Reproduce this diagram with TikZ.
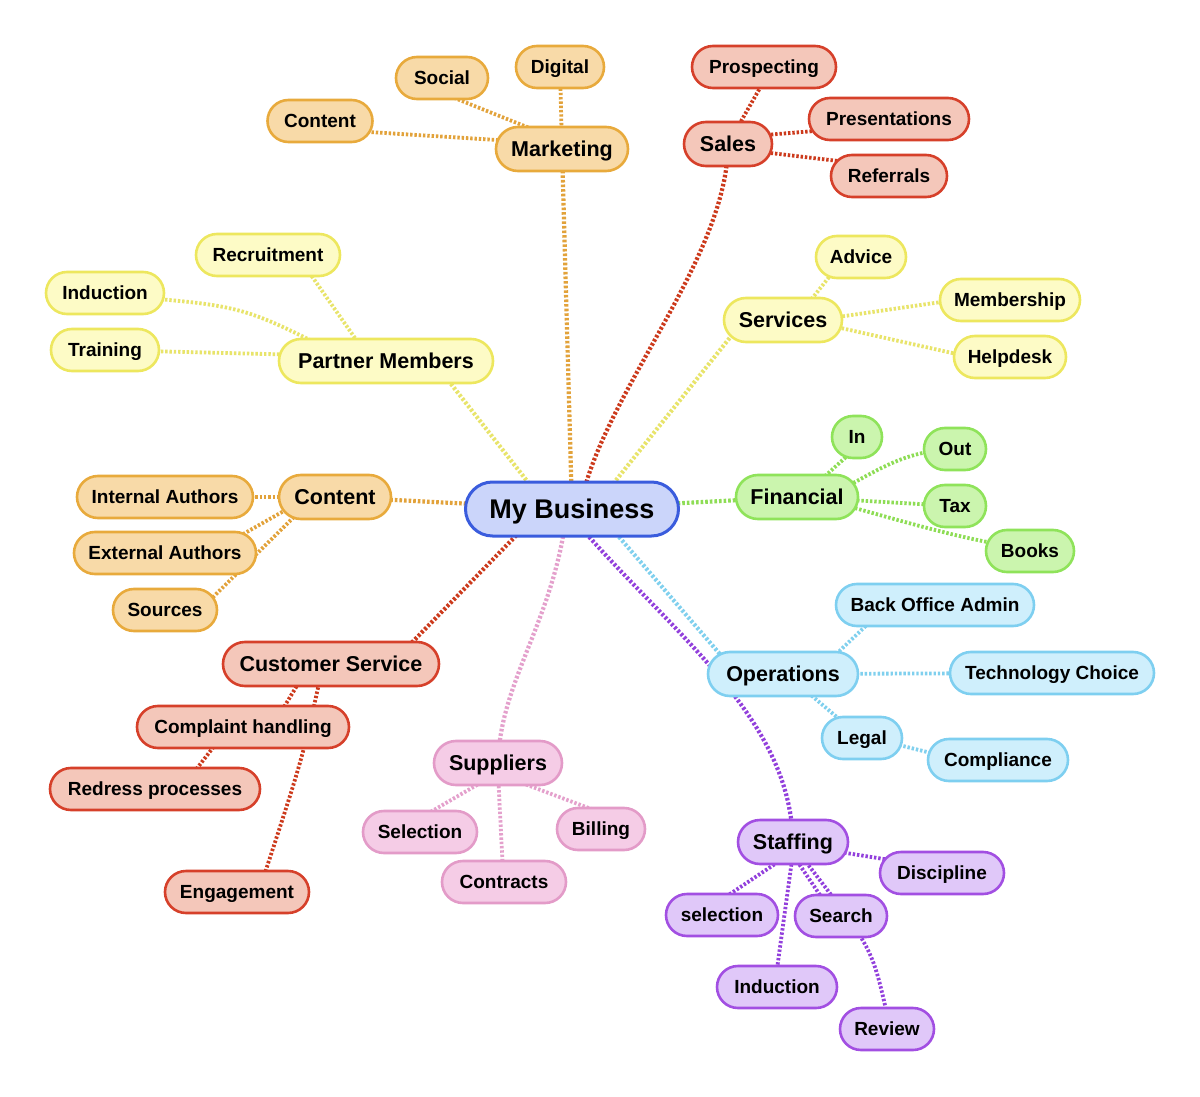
\documentclass[tikz,border=0pt]{standalone}
\usepackage{fontspec}
\setmainfont{Liberation Sans}
\usetikzlibrary{calc}
\definecolor{oraB}{HTML}{E8AA3C}\definecolor{oraF}{HTML}{F8DAA8}\definecolor{oraL}{HTML}{E2A23A}
\definecolor{redB}{HTML}{D6402A}\definecolor{redF}{HTML}{F4C7BA}\definecolor{redL}{HTML}{CC3A1C}
\definecolor{yelB}{HTML}{EDE75E}\definecolor{yelF}{HTML}{FDFBC6}\definecolor{yelL}{HTML}{E8E46A}
\definecolor{grnB}{HTML}{8FE35A}\definecolor{grnF}{HTML}{CBF5AE}\definecolor{grnL}{HTML}{8EDD55}
\definecolor{bluB}{HTML}{7ECFF0}\definecolor{bluF}{HTML}{CFEFFC}\definecolor{bluL}{HTML}{80D0EE}
\definecolor{pnkB}{HTML}{E39BC8}\definecolor{pnkF}{HTML}{F5CCE6}\definecolor{pnkL}{HTML}{E4A0CC}
\definecolor{purB}{HTML}{A24FE2}\definecolor{purF}{HTML}{E0C8F9}\definecolor{purL}{HTML}{9240DC}
\definecolor{rootB}{HTML}{3A5CDD}\definecolor{rootF}{HTML}{CBD5FA}
\pgfdeclarelayer{bgfill}
\pgfdeclarelayer{edges}
\pgfsetlayers{bgfill,edges,main}
\begin{document}
\begin{tikzpicture}[x=1pt,y=-1pt,
  box/.style={draw, line width=2.6pt, rounded corners=21pt, minimum height=42pt, inner sep=0pt,
    text height=13.6pt, text depth=0pt,
    font=\fontsize{19}{22}\selectfont\bfseries},
  lvone/.style={box, minimum height=44pt, rounded corners=22pt, text height=15.4pt,
    font=\fontsize{21.5}{25}\selectfont\bfseries},
  rootbox/.style={draw=rootB, fill=rootF, line width=3pt, rounded corners=27pt, minimum height=54pt,
    minimum width=213pt, inner sep=0pt, text height=19.3pt, text depth=0pt,
    font=\fontsize{27}{31}\selectfont\bfseries},
  ora/.style={draw=oraB, fill=oraF}, rd/.style={draw=redB, fill=redF},
  yel/.style={draw=yelB, fill=yelF}, grn/.style={draw=grnB, fill=grnF},
  blu/.style={draw=bluB, fill=bluF}, pnk/.style={draw=pnkB, fill=pnkF},
  pur/.style={draw=purB, fill=purF},
  link/.style={line width=4.2pt, dash pattern=on 2.6pt off 2pt},
  sublink/.style={line width=3.8pt, dash pattern=on 2.4pt off 1.9pt}]
\useasboundingbox (0,0) rectangle (1200,1097);
\begin{pgfonlayer}{bgfill}
\fill[white] (0,0) rectangle (1200,1097);
\end{pgfonlayer}

% root
\node[rootbox] (mb) at (572,509) {My Business};

% Marketing
\node[lvone,ora,minimum width=132pt] (mkt) at (562,149) {Marketing};
\node[box,ora,minimum width=92pt] (soc) at (442,78) {Social};
\node[box,ora,minimum width=88pt] (dig) at (560,67) {Digital};
\node[box,ora,minimum width=105pt] (mcon) at (320,121) {Content};

% Sales
\node[lvone,rd,minimum width=88pt] (sal) at (728,144) {Sales};
\node[box,rd,minimum width=144pt] (pro) at (764,67) {Prospecting};
\node[box,rd,minimum width=160pt] (pre) at (889,119) {Presentations};
\node[box,rd,minimum width=116pt] (rfr) at (889,176) {Referrals};

% Partner Members
\node[lvone,yel,minimum width=214pt] (pm) at (386,361) {Partner Members};
\node[box,yel,minimum width=144pt] (rec) at (268,255) {Recruitment};
\node[box,yel,minimum width=118pt] (pind) at (105,293) {Induction};
\node[box,yel,minimum width=108pt] (ptr) at (105,350) {Training};

% Services
\node[lvone,yel,minimum width=118pt] (ser) at (783,320) {Services};
\node[box,yel,minimum width=90pt] (adv) at (861,257) {Advice};
\node[box,yel,minimum width=140pt] (mem) at (1010,300) {Membership};
\node[box,yel,minimum width=112pt] (hlp) at (1010,357) {Helpdesk};

% Financial
\node[lvone,grn,minimum width=122pt] (fin) at (797,497) {Financial};
\node[box,grn,minimum width=50pt] (fi) at (857,437) {In};
\node[box,grn,minimum width=62pt] (fo) at (955,449) {Out};
\node[box,grn,minimum width=62pt] (tax) at (955,506) {Tax};
\node[box,grn,minimum width=88pt] (bks) at (1030,551) {Books};

% Content
\node[lvone,ora,minimum width=112pt] (con) at (335,497) {Content};
\node[box,ora,minimum width=176pt] (ia) at (165,497) {Internal Authors};
\node[box,ora,minimum width=182pt] (ea) at (165,553) {External Authors};
\node[box,ora,minimum width=104pt] (src) at (165,610) {Sources};

% Customer Service
\node[lvone,rd,minimum width=216pt] (cs) at (331,664) {Customer Service};
\node[box,rd,minimum width=212pt] (cmp) at (243,727) {Complaint handling};
\node[box,rd,minimum width=210pt] (rdp) at (155,789) {Redress processes};
\node[box,rd,minimum width=144pt] (eng) at (237,892) {Engagement};

% Suppliers
\node[lvone,pnk,minimum width=128pt] (sup) at (498,763) {Suppliers};
\node[box,pnk,minimum width=114pt] (sel) at (420,832) {Selection};
\node[box,pnk,minimum width=88pt] (bil) at (601,829) {Billing};
\node[box,pnk,minimum width=124pt] (ctr) at (504,882) {Contracts};

% Operations
\node[lvone,blu,minimum width=150pt] (ops) at (783,674) {Operations};
\node[box,blu,minimum width=198pt] (boa) at (935,605) {Back Office Admin};
\node[box,blu,minimum width=204pt] (tec) at (1052,673) {Technology Choice};
\node[box,blu,minimum width=80pt] (leg) at (862,738) {Legal};
\node[box,blu,minimum width=140pt] (cpl) at (998,760) {Compliance};

% Staffing
\node[lvone,pur,minimum width=110pt] (stf) at (793,842) {Staffing};
\node[box,pur,minimum width=124pt] (dis) at (942,873) {Discipline};
\node[box,pur,minimum width=112pt] (ssel) at (722,915) {selection};
\node[box,pur,minimum width=92pt] (srch) at (841,916) {Search};
\node[box,pur,minimum width=120pt] (sind) at (777,987) {Induction};
\node[box,pur,minimum width=94pt] (rev) at (887,1029) {Review};

\begin{pgfonlayer}{edges}
% root branches
\draw[link,oraL] (mb.center) -- (mkt.center);
\draw[link,redL] ($(mb.center)+(8,0)$) .. controls (598,400) and (728,260) .. (sal.center);
\draw[link,yelL] ($(mb.center)+(-23,0)$) -- ($(pm.center)+(47,0)$);
\draw[link,yelL] ($(mb.center)+(21,0)$) -- ($(ser.center)+(-39,0)$);
\draw[link,oraL] (mb.center) -- (con.center);
\draw[link,grnL] (mb.center) -- (fin.center);
\draw[link,redL] ($(mb.center)+(-30,0)$) -- ($(cs.center)+(60,0)$);
\draw[link,pnkL] ($(mb.center)+(-5,0)$) .. controls (555,620) and (500,680) .. (sup.center);
\draw[link,bluL] ($(mb.center)+(23,0)$) -- ($(ops.center)+(-46,0)$);
\draw[link,purL] ($(mb.center)+(11,21)$) .. controls (680,640) and (790,720) .. (stf.center);

% Marketing
\draw[sublink,oraL] (dig.center) -- (mkt.center);
\draw[sublink,oraL] ($(soc.center)+(0,15)$) -- ($(mkt.center)+(0,-8)$);
\draw[sublink,oraL] ($(mcon.center)+(0,8)$) -- ($(mkt.center)+(0,-5)$);

% Sales
\draw[sublink,redL] ($(pro.center)+(8,0)$) -- (sal.center);
\draw[sublink,redL] ($(pre.center)+(0,6)$) -- ($(sal.center)+(0,-6)$);
\draw[sublink,redL] ($(sal.center)+(0,4)$) -- ($(rfr.center)+(0,-9)$);

% Partner Members
\draw[sublink,yelL] ($(rec.center)+(29,0)$) -- ($(pm.center)+(-15,0)$);
\draw[sublink,yelL] ($(pind.center)+(0,2)$) .. controls (240,305) .. ($(pm.center)+(-56,-11)$);
\draw[sublink,yelL] (ptr.center) -- ($(pm.center)+(0,-4)$);

% Services
\draw[sublink,yelL] ($(adv.center)+(-16,0)$) -- ($(ser.center)+(12,0)$);
\draw[sublink,yelL] ($(ser.center)+(0,5)$) -- ($(mem.center)+(0,-8)$);
\draw[sublink,yelL] ($(ser.center)+(0,-5)$) -- ($(hlp.center)+(0,9)$);

% Financial
\draw[sublink,grnL] ($(fi.center)+(11,0)$) -- ($(fin.center)+(5,0)$);
\draw[sublink,grnL] ($(fin.center)+(45,-8)$) .. controls (882,468) and (905,451) .. (fo.center);
\draw[sublink,grnL] (fin.center) -- (tax.center);
\draw[sublink,grnL] ($(fin.center)+(0,-5)$) .. controls (900,520) and (960,540) .. ($(bks.center)+(0,-2)$);

% Content
\draw[sublink,oraL] (ia.center) -- (con.center);
\draw[sublink,oraL] ($(con.center)+(-45,10.5)$) -- ($(ea.center)+(73,-16)$);
\draw[sublink,oraL] ($(con.center)+(-35,14)$) -- ($(src.center)+(40,-5)$);

% Customer Service
\draw[sublink,redL] ($(cs.center)+(-30,15)$) -- ($(cmp.center)+(38,-15)$);
\draw[sublink,redL] ($(cs.center)+(-11,15)$) .. controls (302,760) .. ($(eng.center)+(25,-10)$);
\draw[sublink,redL] ($(cmp.center)+(-24,13)$) -- ($(rdp.center)+(36,-13)$);

% Suppliers
\draw[sublink,pnkL] ($(sel.center)+(7,-18)$) -- ($(sup.center)+(-16,19)$);
\draw[sublink,pnkL] ($(sup.center)+(0,10)$) -- ($(ctr.center)+(-1,-10)$);
\draw[sublink,pnkL] ($(sup.center)+(24,20)$) -- ($(bil.center)+(-7,-19)$);

% Operations
\draw[sublink,bluL] ($(boa.center)+(-63,15)$) -- ($(ops.center)+(47,-14)$);
\draw[sublink,bluL] (ops.center) -- (tec.center);
\draw[sublink,bluL] ($(ops.center)+(22,16)$) -- ($(leg.center)+(-17,-14)$);
\draw[sublink,bluL] ($(leg.center)+(33,6)$) -- ($(cpl.center)+(-63,-6)$);

% Staffing
\draw[sublink,purL] ($(stf.center)+(47,10)$) -- ($(dis.center)+(-52,-13)$);
\draw[sublink,purL] ($(stf.center)+(-15,20)$) -- ($(ssel.center)+(5,-19)$);
\draw[sublink,purL] ($(stf.center)+(-1,18)$) -- ($(sind.center)+(0,-18)$);
\draw[sublink,purL] ($(stf.center)+(4,19)$) -- ($(srch.center)+(-19,-18)$);
\draw[sublink,purL] ($(stf.center)+(13,20)$) .. controls (872,948) .. ($(rev.center)+(0,-15)$);
\end{pgfonlayer}
\end{tikzpicture}
\end{document}
